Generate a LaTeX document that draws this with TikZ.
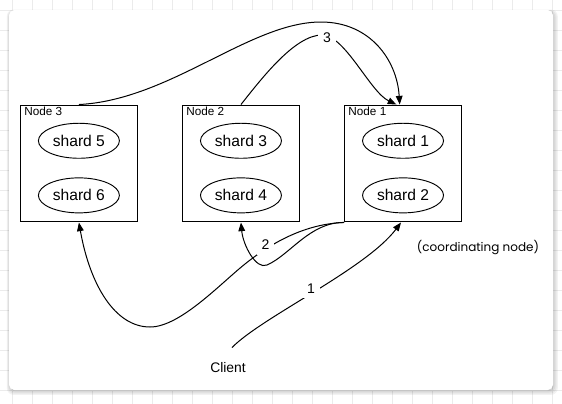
\documentclass[tikz,border=0pt]{standalone}
\usepackage{fontspec}
\setmainfont{Liberation Sans}
\newfontfamily\geofont{Poppins}
\usetikzlibrary{arrows.meta, shapes.geometric, positioning}

\begin{document}
\begin{tikzpicture}[x=0.75pt, y=-0.75pt, every node/.style={font=\fontsize{10.5}{12}\selectfont},
  nodebox/.style={draw, rectangle, line width=0.85pt, minimum width=87.4pt, minimum height=87.6pt, inner sep=0pt},
  shardell/.style={draw, ellipse, line width=0.7pt, minimum width=60.75pt, minimum height=26.25pt, inner sep=0pt, font=\fontsize{11.7}{14}\selectfont},
  boxlbl/.style={anchor=north west, inner sep=0pt, font=\fontsize{8.8}{10}\selectfont},
  numlbl/.style={fill=white, inner sep=3.5pt},
  link/.style={-{Triangle[length=6.5pt, width=5pt]}, line width=0.75pt},
  gridline/.style={draw=black!8, line width=0.5pt}]
\useasboundingbox (0,0) rectangle (562,404);

% Raster und Karte
\foreach \gx in {12,32,...,552} \draw[gridline] (\gx,0) -- (\gx,404);
\foreach \gy in {10,30,...,390} \draw[gridline] (0,\gy) -- (562,\gy);
\foreach \s in {1,...,4} \fill[black, opacity=0.05, rounded corners=5pt] (10-\s*0.8,12-\s*0.6) rectangle (553+\s*1.2,390+\s*1.2);
\fill[white, rounded corners=4pt] (9,10) rectangle (553,390);

% Node 3
\node (n3) at (78.9,163.5) [nodebox] {};
\node[boxlbl] at ([shift={(3pt,-1.6pt)}]n3.north west) {Node 3};
\node (s5) [shardell, below=13.7pt of n3.north] {shard 5};
\node (s6) [shardell, below=14pt of s5] {shard 6};

% Node 2
\node (n2) [nodebox, right=33.3pt of n3] {};
\node[boxlbl] at ([shift={(3pt,-1.6pt)}]n2.north west) {Node 2};
\node (s3) [shardell, below=13.7pt of n2.north] {shard 3};
\node (s4) [shardell, below=14pt of s3] {shard 4};

% Node 1
\node (n1) [nodebox, right=33.3pt of n2] {};
\node[boxlbl] at ([shift={(3pt,-1.6pt)}]n1.north west) {Node 1};
\node (s1) [shardell, below=13.7pt of n1.north] {shard 1};
\node (s2) [shardell, below=14pt of s1] {shard 2};
\node (coord) at (478,247.5) [font=\geofont\fontsize{9}{11}\selectfont] {(coordinating node)};

% Client
\node (client) at (228,368) [font=\fontsize{10.4}{12}\selectfont] {Client};

% Verbindungen
\draw[link] ([shift={(3pt,8pt)}]client.north) .. controls (262,317) and (366,269) .. ([xshift=-1.5pt]n1.south);
\draw[link] (n1.south west) .. controls (300,224) and (265,248) .. (245,264) .. controls (220,284) and (180,327) .. (150,327) .. controls (115,327) and (90,285) .. (n3.south);
\draw[link] (n1.south west) .. controls (310,222) and (290,255) .. (267,265) .. controls (256,270) and (243,245) .. (n2.south);
\draw[link] (n3.north) .. controls (170,100) and (250,22) .. (321,22) .. controls (370,22) and (397,60) .. ([xshift=-2.5pt]n1.north);
\draw[link] (n2.north) .. controls (262,78) and (295,35) .. (322,35) .. controls (345,35) and (370,92) .. ([xshift=-5pt]n1.north);

% Nummern
\node (num1) at (311,289) [numlbl] {1};
\node (num2) at (265.5,245) [numlbl] {2};
\node (num3) at (327,38) [numlbl] {3};
\end{tikzpicture}
\end{document}
